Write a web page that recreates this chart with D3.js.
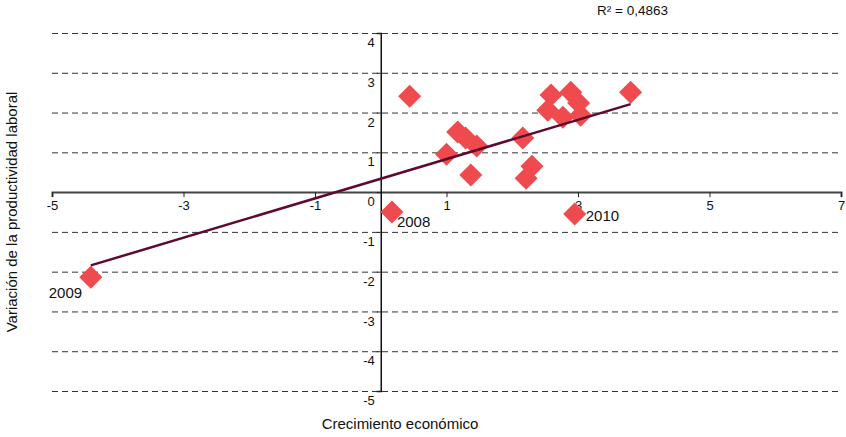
<!DOCTYPE html>
<html><head><meta charset="utf-8">
<script src="https://cdn.jsdelivr.net/npm/d3@7"></script>
<style>
html,body{margin:0;padding:0;background:#fff;}
svg{display:block;font-family:"Liberation Sans",Arial,sans-serif;}
</style></head>
<body><svg id="c" width="846" height="437"></svg>
<script>
// Economic growth (x) vs labour productivity change (y)
const growth       = [-4.41, 0.17, 2.95, 0.44, 1.00, 1.17, 1.29, 1.46, 1.37, 2.16, 2.30, 2.21, 2.59, 2.89, 2.54, 3.01, 2.77, 3.04, 3.80];
const productivity = [-2.14, -0.50, -0.55, 2.41, 0.95, 1.51, 1.36, 1.16, 0.43, 1.36, 0.65, 0.35, 2.44, 2.51, 2.06, 2.24, 1.88, 1.93, 2.51];
const pointLabels  = ["2009", "2008", "2010", "", "", "", "", "", "", "", "", "", "", "", "", "", "", "", ""];
const xTickValues  = [-5, -3, -1, 1, 3, 5, 7];
const yTickValues  = [-5, -4, -3, -2, -1, 0, 1, 2, 3, 4];
const r2Text = "R² = 0,4863";
const xTitle = "Crecimiento económico";
const yTitle = "Variación de la productividad laboral";

const svg = d3.select("#c");
const x = d3.scaleLinear().domain([-5, 7]).range([52, 841]);
const y = d3.scaleLinear().domain([-5, 4]).range([391, 33]);

// gridlines
svg.append("g").selectAll("line").data(yTickValues.filter(v => v !== 0)).join("line")
  .attr("x1", x(-5)).attr("x2", x(7))
  .attr("y1", d => y(d) + 0.5).attr("y2", d => y(d) + 0.5)
  .attr("stroke", "#333").attr("stroke-width", 1).attr("stroke-dasharray", "6,4");

// x axis
const xAxis = d3.axisBottom(x).tickValues(xTickValues).tickSize(5).tickPadding(4)
  .tickFormat(d => d3.format("")(d).replace("−", "-"));
const gx = svg.append("g").attr("transform", `translate(0,${y(0)})`).call(xAxis);
gx.select(".domain").attr("stroke", "#444").attr("stroke-width", 2);
gx.selectAll(".tick line").attr("stroke", "#222");
gx.selectAll(".tick text").attr("font-size", 13).attr("fill", "#111")
  .attr("font-family", "Liberation Sans, Arial, sans-serif");

// y axis
const yAxis = d3.axisLeft(y).tickValues(yTickValues).tickSize(4).tickPadding(2)
  .tickFormat(d => d3.format("")(d).replace("−", "-"));
const gy = svg.append("g").attr("transform", `translate(${x(0)},0)`).call(yAxis);
gy.select(".domain").attr("stroke", "#111").attr("stroke-width", 1.5);
gy.selectAll(".tick line").attr("stroke", "#222");
gy.selectAll(".tick text").attr("font-size", 13).attr("fill", "#111").attr("dy", "1.05em")
  .attr("font-family", "Liberation Sans, Arial, sans-serif");

// regression line (least squares from the data)
const n = growth.length;
const mx = d3.mean(growth), my = d3.mean(productivity);
let sxy = 0, sxx = 0;
for (let i = 0; i < n; i++) { sxy += (growth[i]-mx)*(productivity[i]-my); sxx += (growth[i]-mx)**2; }
const slope = sxy / sxx, icpt = my - slope * mx;
const [xmin, xmax] = d3.extent(growth);

// points
const sym = d3.symbol().type(d3.symbolSquare).size(265);
const pts = growth.map((g, i) => ({ g, p: productivity[i], l: pointLabels[i] }));
svg.append("g").selectAll("path").data(pts).join("path")
  .attr("d", sym)
  .attr("transform", d => `translate(${x(d.g)},${y(d.p)}) rotate(45)`)
  .attr("fill", "#EF4A4E");

svg.append("line")
  .attr("x1", x(xmin)).attr("y1", y(slope * xmin + icpt))
  .attr("x2", x(xmax)).attr("y2", y(slope * xmax + icpt))
  .attr("stroke", "#5E0A30").attr("stroke-width", 2.5);

// point labels
const labelOffset = { "2009": [-42, 21], "2008": [5, 15], "2010": [11, 7] };
svg.append("g").selectAll("text").data(pts.filter(d => d.l)).join("text")
  .attr("x", d => x(d.g) + labelOffset[d.l][0])
  .attr("y", d => y(d.p) + labelOffset[d.l][1])
  .attr("font-size", 15).attr("fill", "#111").text(d => d.l);

// R² text
svg.append("text").attr("x", 597).attr("y", 15).attr("font-size", 13.5).attr("fill", "#111").text(r2Text);

// titles
svg.append("text").attr("x", 400).attr("y", 429).attr("text-anchor", "middle")
  .attr("font-size", 15).attr("fill", "#111").text(xTitle);
svg.append("text").attr("transform", "translate(17,212) rotate(-90)").attr("text-anchor", "middle")
  .attr("font-size", 15).attr("fill", "#111").text(yTitle);
</script></body></html>
